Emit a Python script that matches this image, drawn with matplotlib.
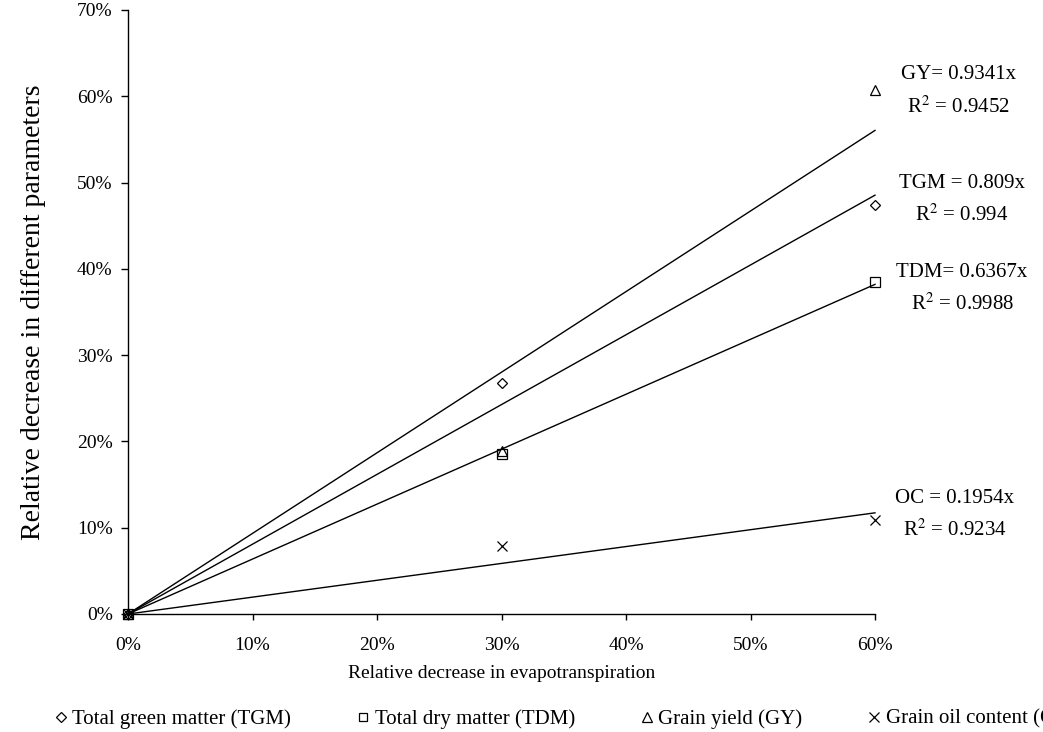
import matplotlib
matplotlib.use("Agg")
import matplotlib.pyplot as plt
from matplotlib.lines import Line2D
from matplotlib.ticker import PercentFormatter

plt.rcParams['font.family'] = ['Liberation Serif', 'DejaVu Serif']
plt.rcParams['mathtext.fontset'] = 'stix'

# relative decrease in evapotranspiration
et = [0.0, 0.30, 0.60]

# relative decrease in each parameter
tgm = [0.0, 0.268, 0.474]
tdm = [0.0, 0.185, 0.385]
gy = [0.0, 0.189, 0.607]
oc = [0.0, 0.079, 0.109]

names = ["Total green matter (TGM)", "Total dry matter (TDM)",
         "Grain yield (GY)", "Grain oil content (OC)"]
markers = ["D", "s", "^", "x"]
msizes = [5.5, 6.5, 7, 7]

# fitted lines through origin
slopes = [0.809, 0.6367, 0.9341, 0.1954]
eq_text = ["TGM = 0.809x", "TDM= 0.6367x", "GY= 0.9341x", "OC = 0.1954x"]
r2_text = ["R$^2$ = 0.994", "R$^2$ = 0.9988", "R$^2$ = 0.9452", "R$^2$ = 0.9234"]
eq_pos = [(0.670, 0.499), (0.670, 0.396), (0.667, 0.625), (0.664, 0.134)]

fig = plt.figure(figsize=(10.43, 7.32), dpi=100)
ax = fig.add_axes([128/1043, 1-614/732, (875-128)/1043, (614-10)/732])

series = [tgm, tdm, gy, oc]
handles = []
for vals, m, ms, k, name in zip(series, markers, msizes, slopes, names):
    ax.plot([et[0], et[-1]], [k*et[0], k*et[-1]], color="black", lw=1, clip_on=False)
    ax.plot(et, vals, linestyle="none", marker=m, ms=ms, mfc="none", mec="black",
            mew=0.9, clip_on=False, zorder=5)
    handles.append(Line2D([], [], linestyle="none", marker=m, ms=ms-0.5, mfc="none",
                          mec="black", mew=0.9, label=name))

for (x, y), t1, t2 in zip(eq_pos, eq_text, r2_text):
    ax.text(x, y, t1, ha="center", va="center", fontsize=15, clip_on=False)
    ax.text(x, y - 0.037, t2, ha="center", va="center", fontsize=15, clip_on=False)

ax.set_xlim(0, 0.6)
ax.set_ylim(0, 0.7)
ax.set_xticks([0, 0.1, 0.2, 0.3, 0.4, 0.5, 0.6])
ax.set_yticks([0, 0.1, 0.2, 0.3, 0.4, 0.5, 0.6, 0.7])
ax.xaxis.set_major_formatter(PercentFormatter(1.0, decimals=0))
ax.yaxis.set_major_formatter(PercentFormatter(1.0, decimals=0))
ax.tick_params(axis="y", direction="out", length=5, width=1, pad=6, labelsize=14)
ax.tick_params(axis="x", direction="out", length=4.5, width=1, pad=12, labelsize=14)
for s in ["top", "right"]:
    ax.spines[s].set_visible(False)
for s in ["left", "bottom"]:
    ax.spines[s].set_linewidth(1)

ax.set_xlabel("Relative decrease in evapotranspiration", fontsize=14, labelpad=8)
ax.set_ylabel("Relative decrease in different parameters", fontsize=20, labelpad=22)

fig.legend(handles=handles, loc="center left", bbox_to_anchor=(0.0355, 1-719/732),
           ncol=4, frameon=False, fontsize=15, handlelength=0.5, handletextpad=0.3,
           columnspacing=3.2, borderpad=0.4)

fig.savefig("out.png", dpi=100)
